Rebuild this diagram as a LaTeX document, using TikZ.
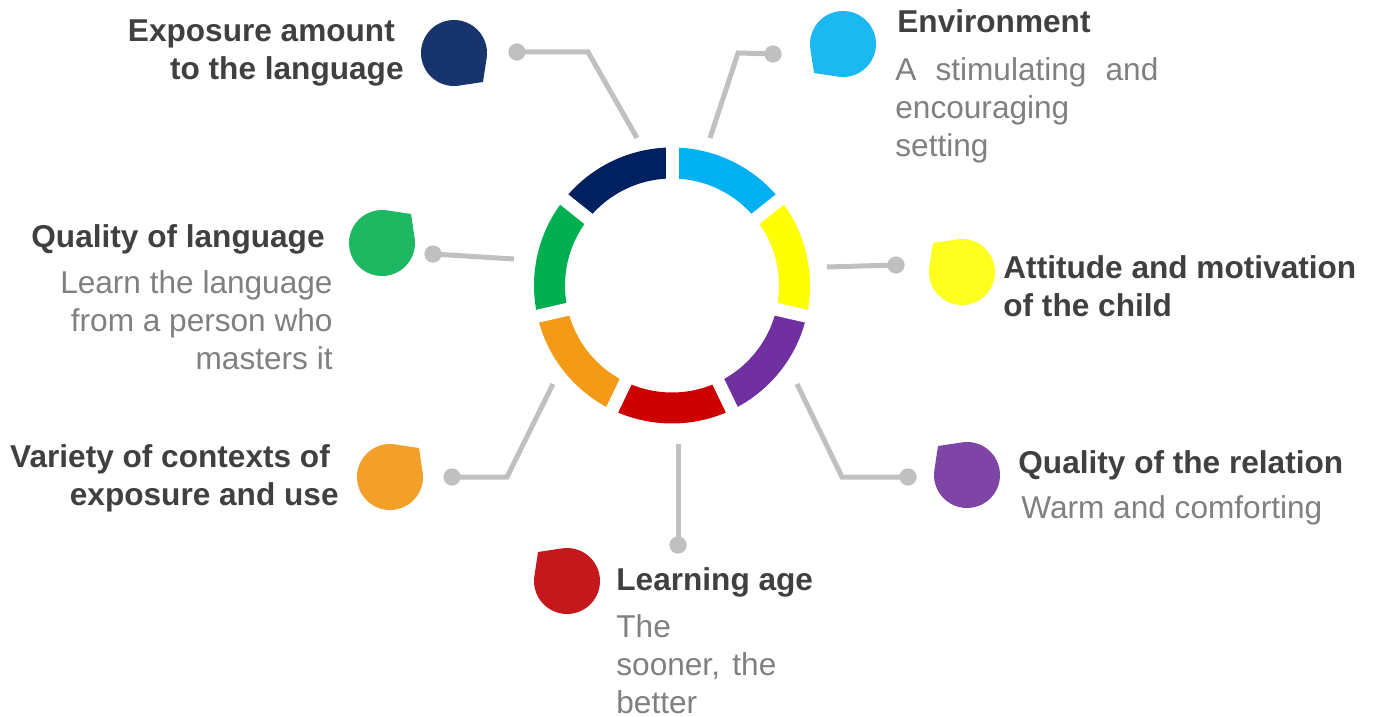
\documentclass[tikz,border=0pt]{standalone}
\usepackage{fontspec}
\setmainfont{Liberation Sans}

\definecolor{ringnavy}{HTML}{002060}
\definecolor{ringcyan}{HTML}{00B0F0}
\definecolor{ringyellow}{HTML}{FFFF00}
\definecolor{ringpurple}{HTML}{7030A0}
\definecolor{ringred}{HTML}{CC0000}
\definecolor{ringorange}{HTML}{F39A16}
\definecolor{ringgreen}{HTML}{00B050}
\definecolor{blobnavy}{HTML}{17346C}
\definecolor{blobcyan}{HTML}{1CB8F0}
\definecolor{blobyellow}{HTML}{FFFF1F}
\definecolor{blobpurple}{HTML}{7E44A6}
\definecolor{blobred}{HTML}{C4181C}
\definecolor{bloborange}{HTML}{F3A02A}
\definecolor{blobgreen}{HTML}{1EB862}
\definecolor{linkgray}{HTML}{C0C0C0}
\definecolor{titlegray}{HTML}{404040}
\definecolor{descgray}{HTML}{808080}

\begin{document}
\begin{tikzpicture}[
    x = 0.5pt,
    y = -0.5pt,
    seg/.style = {line width=15.5pt},
    gap/.style = {line width=6.5pt, white},
    link/.style = {line width=2.5pt, draw=linkgray},
    dot/.style = {circle, fill=linkgray, inner sep=0pt, minimum size=8.5pt},
    title/.style = {inner sep=0pt, text=titlegray,
      font=\fontsize{15.8}{19}\selectfont\bfseries},
    desc/.style = {inner sep=0pt, text=descgray,
      font=\fontsize{15.8}{19}\selectfont},
    blob/.pic = {\fill (#1+37:33) arc[start angle=#1+37, end angle=#1+323, radius=33]
      -- (#1:41) -- cycle;}
  ]
  \useasboundingbox (0,0) rectangle (1376,717);
  \coordinate (hub) at (672,285.5);

  % Ring
  \begin{scope}[shift={(hub)}, y=0.5pt]
    \foreach \c [count=\i] in {ringcyan, ringyellow, ringpurple, ringred,
                               ringorange, ringgreen, ringnavy}
      \draw[seg, \c] ({90-(\i-1)*360/7}:122.5)
        arc[start angle={90-(\i-1)*360/7}, end angle={90-\i*360/7}, radius=122.5];
    \foreach \i in {0,...,6}
      \draw[gap] ({90-\i*360/7}:100) -- ({90-\i*360/7}:146);
  \end{scope}

  % Blobs
  \pic[fill=blobnavy]   at (454,53)  {blob=45};
  \pic[fill=blobcyan]   at (843,44)  {blob=135};
  \pic[fill=blobgreen]  at (382,243) {blob=-45};
  \pic[fill=blobyellow] at (962,272) {blob=-135};
  \pic[fill=bloborange] at (390,477) {blob=-45};
  \pic[fill=blobred]    at (567,581) {blob=-135};
  \pic[fill=blobpurple] at (967,475) {blob=-135};

  % Connectors
  \coordinate (exposureend)  at (637,138);
  \coordinate (exposurebend) at (588,52);
  \coordinate (envend)       at (710,138);
  \coordinate (envbend)      at (738,53);
  \coordinate (qualityend)   at (514,259);
  \coordinate (attitudeend)  at (827,267);
  \coordinate (varietyend)   at (553,384);
  \coordinate (varietybend)  at (507,477);
  \coordinate (ageend)       at (678,444);
  \coordinate (relationend)  at (797,384);
  \coordinate (relationbend) at (842,477);

  \node[dot] (exposuredot) at (517,52)  {};
  \node[dot] (envdot)      at (773,54)  {};
  \node[dot] (qualitydot)  at (433,254) {};
  \node[dot] (attitudedot) at (896,265) {};
  \node[dot] (varietydot)  at (452,477) {};
  \node[dot] (agedot)      at (678,545) {};
  \node[dot] (relationdot) at (908,477) {};

  \draw[link] (exposuredot.center) -- (exposurebend) -- (exposureend);
  \draw[link] (envdot.center) -- (envbend) -- (envend);
  \draw[link] (qualitydot.center) -- (qualityend);
  \draw[link] (attitudedot.center) -- (attitudeend);
  \draw[link] (varietydot.center) -- (varietybend) -- (varietyend);
  \draw[link] (agedot.center) -- (ageend);
  \draw[link] (relationdot.center) -- (relationbend) -- (relationend);

  \node[dot] at (exposuredot) {};
  \node[dot] at (envdot) {};
  \node[dot] at (qualitydot) {};
  \node[dot] at (attitudedot) {};
  \node[dot] at (varietydot) {};
  \node[dot] at (agedot) {};
  \node[dot] at (relationdot) {};

  % Labels (multi-line nodes sit on their last baseline)
  \node[title, anchor=base east, align=right] (exposure) at (404,80)
    {Exposure amount\hspace*{0.278em}\\to the language};
  \node[title, anchor=base west] (environment) at (897,33) {Environment};
  \node[desc, anchor=base west, align=left] (environmentdesc) at (895,156)
    {\makebox[131.5pt][s]{A stimulating and}\\encouraging\\setting};
  \node[title, anchor=base east] (quality) at (325,247) {Quality of language};
  \node[desc, anchor=base east, align=right] (qualitydesc) at (333,369)
    {Learn the language\\from a person who\\masters it};
  \node[title, anchor=base west, align=left] (attitude) at (1003,316)
    {Attitude and motivation\\of the child};
  \node[title, anchor=base east, align=right] (variety) at (339,505)
    {Variety of contexts of\hspace*{0.278em}\\exposure and use};
  \node[title, anchor=base west] (relation) at (1018,473) {Quality of the relation};
  \node[desc, anchor=base west] (relationdesc) at (1021,518) {Warm and comforting};
  \node[title, anchor=base west] (age) at (616,590) {Learning age};
  \node[desc, anchor=base west, align=left] (agedesc) at (616,713)
    {The\\\makebox[80pt][s]{sooner, the}\\better};
\end{tikzpicture}
\end{document}
